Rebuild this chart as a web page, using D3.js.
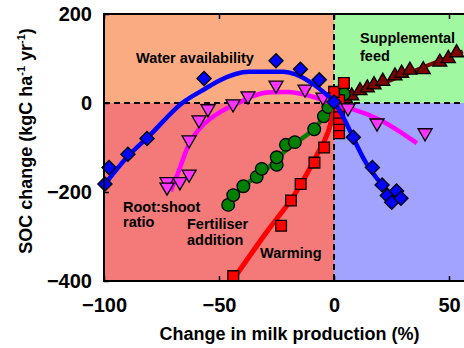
<!DOCTYPE html>
<html><head><meta charset="utf-8">
<script src="https://cdn.jsdelivr.net/npm/d3@7"></script>
<style>body{margin:0;background:#fff}svg{display:block;font-family:"Liberation Sans",Arial,sans-serif}</style>
</head><body><svg id="c" width="464" height="348"></svg>
<script>
// ---- data ----
const xTicks = [-100, -50, 0, 50];
const yTicks = [-400, -200, 0, 200];

const waterPts = [[-99.6,-182],[-97.8,-145],[-89.6,-115],[-81.3,-80],[-56.5,55],[-25.2,95],[-14.6,76],[-6.4,52],[0,2],[8.4,-77],[16.7,-145],[20.9,-184],[23.2,-208],[25.1,-223],[27.2,-198],[29.1,-214]];
const waterLine = [[-100,-185],[-90,-122],[-80,-72],[-66,0],[-56,32],[-50,50],[-37,70],[-22,70],[-10,46],[-3,18],[0,4],[3,-22],[14,-135],[23,-196],[26,-212]];

const rootPts = [[-72.6,-177],[-72.6,-189],[-67,-177],[-63,-160],[-63,-83],[-58.7,-38],[-54.8,-13],[-43.9,-2],[-37.4,16],[-25.2,40],[-12.6,31],[-4.8,13],[6.1,-11],[18.7,-45],[39.6,-67]];
const rootLine = [[-71,-198],[-68,-160],[-63,-92],[-58,-55],[-54,-36],[-50,-22],[-45,-8],[-40,4],[-35,16],[-28,24],[-20,25],[-12,18],[-5,7],[0,-3],[7,-12],[20,-38],[36,-90]];

const fertPts = [[-46,-229],[-43.8,-207],[-39.4,-187],[-33.6,-166],[-31.4,-148],[-24.9,-139],[-24.9,-122],[-20.9,-94],[-17,-88],[-8.6,-59],[-4.4,-30],[-2.5,-9],[4.3,20]];
const fertLine = [[-47,-232],[-40,-190],[-30,-152],[-20,-102],[-10,-64],[-4,-30],[0,-4],[4,18]];

const warmPts = [[-43.8,-389],[-23,-276],[-18.7,-219],[-14.5,-182],[-8.5,-134],[-4.3,-100],[2.2,-68],[2.2,-50],[2.2,-36],[2.2,-22],[2.2,-8],[2.2,6],[0,25],[4.3,45]];
const warmLine = [[-44,-398],[-30,-295],[-15.5,-192],[-8,-122],[-2.5,-64],[0,-20],[2,10]];

const feedPts = [[5,10],[7.7,16],[11.3,28],[14.5,34],[17.4,41],[21.2,49],[26.5,61],[29.4,67],[33,74],[38.8,75],[46,92],[49.7,100],[53.3,113]];
const feedLine = [[0,0],[56,116]];

// ---- layout ----
const svg = d3.select("#c");
const x = d3.scaleLinear().domain([-100, 57]).range([104, 465.1]);
const y = d3.scaleLinear().domain([-400, 200]).range([281, 14]);
const F = '"Liberation Sans",Arial,sans-serif';

// quadrant backgrounds
const quads = [
  {x0:-100,x1:0,y0:0,y1:200,c:"#fbab82"},
  {x0:-100,x1:0,y0:-400,y1:0,c:"#f47a7a"},
  {x0:0,x1:57,y0:0,y1:200,c:"#a0f8a0"},
  {x0:0,x1:57,y0:-400,y1:0,c:"#a2a2ff"}
];
svg.selectAll("rect.q").data(quads).enter().append("rect")
  .attr("x", d => x(d.x0)).attr("y", d => y(d.y1))
  .attr("width", d => x(d.x1) - x(d.x0)).attr("height", d => y(d.y0) - y(d.y1))
  .attr("fill", d => d.c);

// dashed zero lines
svg.append("line").attr("x1", x(-100)).attr("x2", x(57)).attr("y1", y(0)).attr("y2", y(0))
  .attr("stroke", "#000").attr("stroke-width", 2).attr("stroke-dasharray", "6,4");
svg.append("line").attr("x1", x(0)).attr("x2", x(0)).attr("y1", y(200)).attr("y2", y(-400))
  .attr("stroke", "#000").attr("stroke-width", 2).attr("stroke-dasharray", "6,4");

const line = d3.line().x(d => x(d[0])).y(d => y(d[1])).curve(d3.curveMonotoneX);
function drawLine(data, color, w) {
  svg.append("path").datum(data).attr("d", line).attr("fill", "none")
    .attr("stroke", color).attr("stroke-width", w).attr("stroke-linecap", "butt");
}
function drawSym(data, type, size, fill, rot) {
  svg.append("g").selectAll("path").data(data).enter().append("path")
    .attr("d", d3.symbol().type(type).size(size))
    .attr("transform", d => `translate(${x(d[0])},${y(d[1])}) rotate(${rot||0})`)
    .attr("fill", fill).attr("stroke", "#000").attr("stroke-width", 1.3);
}

// supplemental feed
drawLine(feedLine, "#800000", 4);
drawSym(feedPts, d3.symbolTriangle, 85, "#800000");
// fertiliser
drawLine(fertLine, "#008000", 4.5);
drawSym(fertPts, d3.symbolCircle, 125, "#008000");
// warming
drawLine(warmLine, "#ff0000", 5);
drawSym(warmPts, d3.symbolSquare, 115, "#ff0000");
// root:shoot
drawLine(rootLine, "#ff00ff", 4.5);
drawSym(rootPts, d3.symbolTriangle, 85, "#ff33ff", 180);
// water
drawLine(waterLine, "#0000ff", 4.5);
drawSym(waterPts, d3.symbolSquare, 100, "#0000ff", 45);

// axes
const gx = svg.append("g").attr("transform", `translate(0,${y(-400)})`)
  .call(d3.axisBottom(x).tickValues(xTicks).tickSizeInner(-5).tickSizeOuter(0).tickPadding(17));
const gt = svg.append("g").attr("transform", `translate(0,${y(200)})`)
  .call(d3.axisTop(x).tickValues(xTicks).tickSizeInner(-5).tickSizeOuter(0).tickFormat(""));
const gy = svg.append("g").attr("transform", `translate(${x(-100)},0)`)
  .call(d3.axisLeft(y).tickValues(yTicks).tickSizeInner(-5).tickSizeOuter(0).tickPadding(12));
[gx, gt, gy].forEach(g => {
  g.select(".domain").remove();
  g.selectAll(".tick line").attr("stroke", "#000").attr("stroke-width", 1.5);
  g.selectAll(".tick text").attr("font-family", F).attr("font-size", 20).attr("font-weight", "bold").attr("fill", "#000");
});

// plot border
svg.append("rect").attr("x", x(-100)).attr("y", y(200))
  .attr("width", x(57) - x(-100) + 4).attr("height", y(-400) - y(200))
  .attr("fill", "none").attr("stroke", "#000").attr("stroke-width", 2);

// annotations
const labels = [
  {t:"Water availability", x:136, y:63},
  {t:"Supplemental", x:360, y:43},
  {t:"feed", x:360, y:61},
  {t:"Root:shoot", x:123, y:212},
  {t:"ratio", x:123, y:227},
  {t:"Fertiliser", x:187, y:229},
  {t:"addition", x:187, y:245},
  {t:"Warming", x:260, y:258}
];
svg.selectAll("text.lab").data(labels).enter().append("text")
  .attr("x", d => d.x).attr("y", d => d.y).text(d => d.t)
  .attr("font-family", F).attr("font-size", 14.5).attr("font-weight", "bold").attr("fill", "#000");

// axis titles
svg.append("text").attr("x", 289.5).attr("y", 340).attr("text-anchor", "middle")
  .attr("font-family", F).attr("font-size", 18).attr("font-weight", "bold")
  .text("Change in milk production (%)");
const yt = svg.append("text").attr("transform", "translate(32,141) rotate(-90)")
  .attr("text-anchor", "middle").attr("font-family", F).attr("font-size", 18).attr("font-weight", "bold");
yt.append("tspan").text("SOC change (kgC ha");
yt.append("tspan").text("-1").attr("font-size", 11).attr("dy", -7);
yt.append("tspan").text(" yr").attr("dy", 7);
yt.append("tspan").text("-1").attr("font-size", 11).attr("dy", -7);
yt.append("tspan").text(")").attr("dy", 7);
</script></body></html>
